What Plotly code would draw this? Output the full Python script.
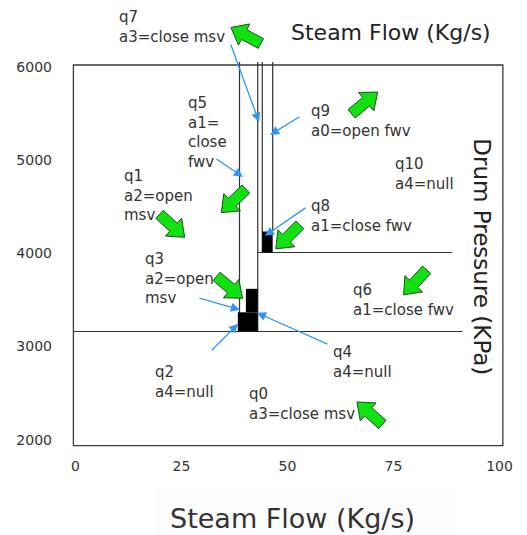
import math
import plotly.graph_objects as go

# ---------------- data ----------------
x_ticks = [0, 25, 50, 75, 100]
y_ticks = [2000, 3000, 4000, 5000, 6000]

# plot frame
frame_x = [-0.47, 100.8]
frame_y = [1936, 6021]

# vertical partition lines
v_x = [38.7, 43.0, 44.07, 46.52]
v_y0 = [3161, 3161, 4009, 4234]
v_y1 = [6054, 6054, 6054, 6054]

# horizontal partition lines
h_y = [3161, 4009]
h_x0 = [-0.47, 43.0]
h_x1 = [91.3, 88.87]

# black filled regions
r_x0 = [38.3, 40.2, 44.07]
r_x1 = [43.0, 43.0, 46.52]
r_y0 = [3161, 3367, 4009]
r_y1 = [3367, 3619, 4234]

# state labels
lab_text = ["q7<br>a3=close msv", "q5<br>a1=<br>close<br>fwv", "q9<br>a0=open fwv",
            "q10<br>a4=null", "q1<br>a2=open<br>msv", "q8<br>a1=close fwv",
            "q3<br>a2=open<br>msv", "q6<br>a1=close fwv", "q4<br>a4=null",
            "q2<br>a4=null", "q0<br>a3=close msv"]
lab_x = [9.9, 26.1, 55.1, 74.8, 11.1, 55.1, 16.0, 64.9, 60.2, 18.4, 40.5]
lab_y = [6424, 5292, 5416, 4853, 4617, 4397, 3727, 3501, 2836, 2617, 2386]

# blue pointer arrows (tail -> tip)
ptr_tail_x = [36.5, 53.2, 32.9, 54.6, 28.9, 31.8, 59.8]
ptr_tail_y = [6257, 5475, 5024, 4499, 3523, 2944, 3019]
ptr_tip_x = [43.3, 45.9, 39.5, 44.7, 38.8, 38.4, 42.8]
ptr_tip_y = [5410, 5271, 4820, 4188, 3394, 3244, 3362]

# green block arrows (centre, direction in degrees)
ga_x = [40.2, 68.2, 37.3, 22.8, 36.35, 50.1, 80.1, 69.4]
ga_y = [6338, 5614, 4563, 4295, 3635, 4177, 3689, 2284]
ga_ang = [151.8, 39.8, -136.3, -42.5, -40.0, -135.0, -132.6, 138.5]

# ---------------- figure ----------------
FONT = "DejaVu Sans"
LINE_C = "#333333"
fig = go.Figure()

for x, y0, y1 in zip(v_x, v_y0, v_y1):
    fig.add_trace(go.Scatter(x=[x, x], y=[y0, y1], mode="lines",
                             line=dict(color=LINE_C, width=1.2), hoverinfo="skip"))
for y, x0, x1 in zip(h_y, h_x0, h_x1):
    fig.add_trace(go.Scatter(x=[x0, x1], y=[y, y], mode="lines",
                             line=dict(color=LINE_C, width=1.2), hoverinfo="skip"))

shapes = [dict(type="rect", xref="x", yref="y", x0=frame_x[0], x1=frame_x[1],
               y0=frame_y[0], y1=frame_y[1], line=dict(color="#3a3a3a", width=1.3),
               layer="below")]
for x0, x1, y0, y1 in zip(r_x0, r_x1, r_y0, r_y1):
    shapes.append(dict(type="rect", xref="x", yref="y", x0=x0, x1=x1, y0=y0, y1=y1,
                       fillcolor="black", line=dict(width=0)))

# block arrow geometry (pixels)
L, HL, SW, HW = 34, 15, 11, 24
local = [(-L / 2, -SW / 2), (L / 2 - HL, -SW / 2), (L / 2 - HL, -HW / 2), (L / 2, 0),
         (L / 2 - HL, HW / 2), (L / 2 - HL, SW / 2), (-L / 2, SW / 2)]
for cx, cy, a in zip(ga_x, ga_y, ga_ang):
    t = math.radians(a)
    pts = [(u * math.cos(t) - v * math.sin(t), u * math.sin(t) + v * math.cos(t)) for u, v in local]
    path = "M " + " L ".join(f"{px:.2f},{py:.2f}" for px, py in pts) + " Z"
    shapes.append(dict(type="path", xref="x", yref="y", xsizemode="pixel", ysizemode="pixel",
                       xanchor=cx, yanchor=cy, path=path, fillcolor="#11e011",
                       line=dict(color="#1d4d1d", width=1)))

# faint panel behind the bottom title
shapes.append(dict(type="rect", xref="paper", yref="paper", x0=0.195, x1=0.885,
                   y0=-0.20, y1=-0.09, fillcolor="#fcfcfc", line=dict(width=0), layer="below"))

annotations = []
for t, x, y in zip(lab_text, lab_x, lab_y):
    annotations.append(dict(x=x, y=y, xref="x", yref="y", text=t, showarrow=False,
                            xanchor="left", yanchor="middle", align="left",
                            font=dict(family=FONT, size=15, color="#333333")))
for tx, ty, hx, hy in zip(ptr_tail_x, ptr_tail_y, ptr_tip_x, ptr_tip_y):
    annotations.append(dict(x=hx, y=hy, xref="x", yref="y", ax=tx, ay=ty, axref="x", ayref="y",
                            text="", showarrow=True, arrowhead=2, arrowsize=1.4,
                            arrowwidth=1.3, arrowcolor="#2f96f5", standoff=0))

annotations.append(dict(x=74.5, y=6375, xref="x", yref="y", text="Steam Flow (Kg/s)",
                        showarrow=False, font=dict(family=FONT, size=22, color="#222222")))
annotations.append(dict(x=96.0, y=3962, xref="x", yref="y", text="Drum Pressure (KPa)",
                        showarrow=False, textangle=90,
                        font=dict(family=FONT, size=23, color="#222222")))
annotations.append(dict(x=0.51, y=-0.162, xref="paper", yref="paper", text="Steam Flow (Kg/s)",
                        showarrow=False, xanchor="center", yanchor="middle",
                        font=dict(family=FONT, size=27, color="#333333")))

fig.update_layout(
    width=527, height=535, autosize=False,
    margin=dict(l=71.6, r=21.5, t=20, b=85.7, pad=0),
    paper_bgcolor="white", plot_bgcolor="white",
    showlegend=False,
    shapes=shapes, annotations=annotations,
    xaxis=dict(range=[-0.8, 101.3], tickvals=x_ticks, showgrid=False, zeroline=False,
               showline=False, ticks="", ticklabelstandoff=7,
               tickfont=dict(family=FONT, size=14, color="#333333")),
    yaxis=dict(range=[1900, 6504], tickvals=y_ticks, showgrid=False, zeroline=False,
               showline=False, ticks="", ticklabelstandoff=19,
               tickfont=dict(family=FONT, size=14, color="#333333")),
)

fig.write_html("out.html", config={"displayModeBar": False},
               post_script="document.body.style.margin='0px';")
